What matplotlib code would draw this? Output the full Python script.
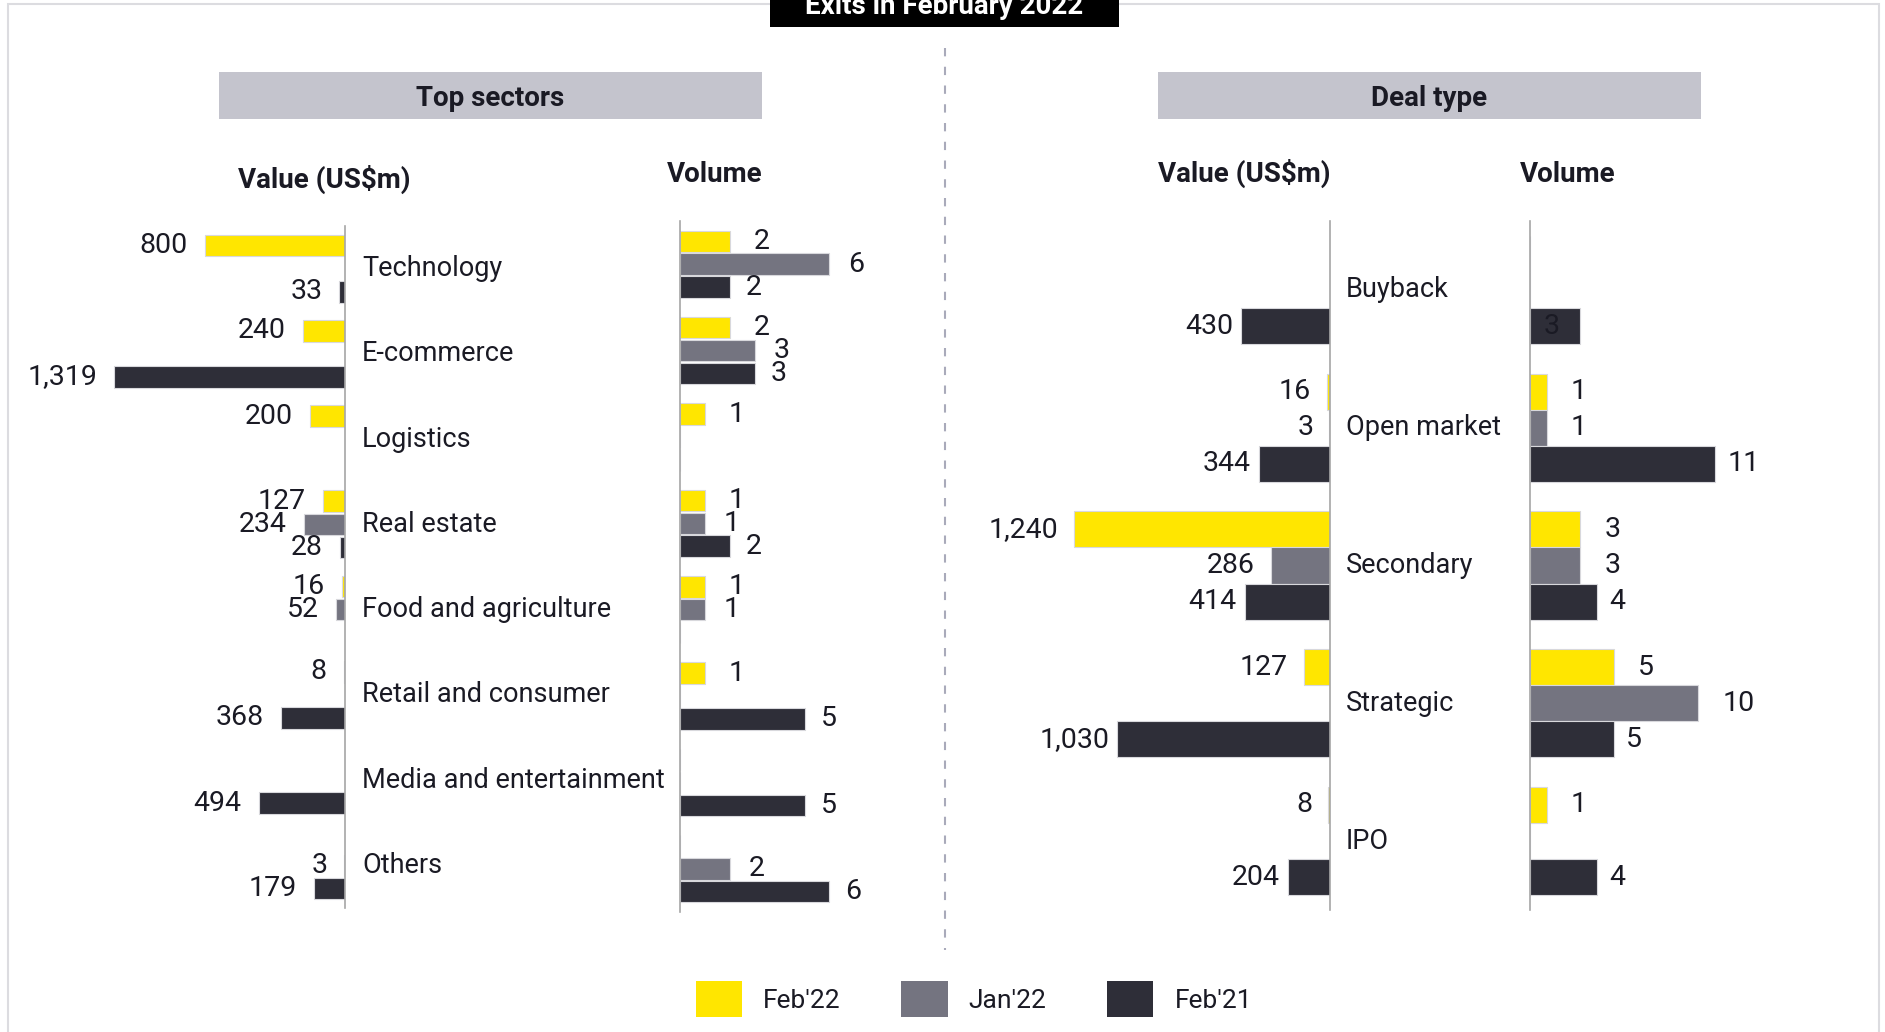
import numpy as np
import matplotlib.pyplot as plt
from matplotlib.patches import Rectangle, Patch
from matplotlib.lines import Line2D

plt.rcParams['font.family'] = ['Roboto', 'DejaVu Sans']

# ------------------------------------------------------------
# Data
# ------------------------------------------------------------
series_names = ["Feb'22", "Jan'22", "Feb'21"]
colors = ['#FFE600', '#747480', '#2E2E38']

sectors = ['Technology', 'E-commerce', 'Logistics', 'Real estate',
           'Food and agriculture', 'Retail and consumer',
           'Media and entertainment', 'Others']
nan = np.nan
sector_value_feb22 = [800, 240, 200, 127, 16, 8, nan, nan]
sector_value_jan22 = [nan, nan, nan, 234, 52, nan, nan, 3]
sector_value_feb21 = [33, 1319, nan, 28, nan, 368, 494, 179]
sector_volume_feb22 = [2, 2, 1, 1, 1, 1, nan, nan]
sector_volume_jan22 = [6, 3, nan, 1, 1, nan, nan, 2]
sector_volume_feb21 = [2, 3, nan, 2, nan, 5, 5, 6]

deal_types = ['Buyback', 'Open market', 'Secondary', 'Strategic', 'IPO']
deal_value_feb22 = [nan, 16, 1240, 127, 8]
deal_value_jan22 = [nan, 3, 286, nan, nan]
deal_value_feb21 = [430, 344, 414, 1030, 204]
deal_volume_feb22 = [nan, 1, 3, 5, 1]
deal_volume_jan22 = [nan, 1, 3, 10, nan]
deal_volume_feb21 = [3, 11, 4, 5, 4]

TXT = '#1A1A24'
FS = 19.5      # category labels
FS_NUM = 20.5  # data labels
FS_HEAD = 20

W, H = 1885, 1032
fig = plt.figure(figsize=(W / 100, H / 100), dpi=100)
PT = 0.72  # points per pixel at dpi 100


def px_axes(x0, y0, x1, y1):
    # pixel box measured from the top-left corner
    return fig.add_axes([x0 / W, 1 - y1 / H, (x1 - x0) / W, (y1 - y0) / H])


def draw(ax, data, n, offset, height, pads, value_side, inside=()):
    y = np.arange(n)
    for k, vals in enumerate(data):
        vals = np.array(vals, dtype=float)
        pos = y + (k - 1) * offset
        ax.barh(pos, np.nan_to_num(vals), height=height, color=colors[k],
                edgecolor='#D8D8DC', linewidth=0.8)
        for i, (p, v) in enumerate(zip(pos, vals)):
            if np.isnan(v):
                continue
            if value_side:
                ax.annotate(f'{v:,.0f}', (v, p), xytext=(-pads[k] * PT, 0),
                            textcoords='offset points', ha='right', va='center',
                            fontsize=FS_NUM, color=TXT)
            elif (k, i) in inside:
                # label sits inside the bar, next to the axis
                ax.annotate(f'{v:,.0f}', (0, p), xytext=(14 * PT, 0),
                            textcoords='offset points', ha='left', va='center',
                            fontsize=FS_NUM, color=TXT)
            else:
                ax.annotate(f'{v:,.0f}', (v, p), xytext=(pads[k] * PT, 0),
                            textcoords='offset points', ha='left', va='center',
                            fontsize=FS_NUM, color=TXT)
    ax.set_ylim(n - 0.5, -0.5)
    for s in ax.spines.values():
        s.set_visible(False)
    sp = ax.spines['right'] if value_side else ax.spines['left']
    sp.set_visible(True)
    sp.set_color('#A6A6A6')
    sp.set_linewidth(1.2)
    ax.set_xticks([])
    ax.set_yticks([])
    ax.patch.set_alpha(0)


# ---- Top sectors ----
ax1 = px_axes(345 - 0.175 * 1500, 226, 345, 908)
ax1.set_xlim(1500, 0)
draw(ax1, [sector_value_feb22, sector_value_jan22, sector_value_feb21],
     len(sectors), 0.27, 0.255, [17, 17, 17], True)
for i, c in enumerate(sectors):
    ax1.annotate(c, (1, i), xycoords=('axes fraction', 'data'),
                 xytext=(17 * PT, 0), textcoords='offset points',
                 ha='left', va='center', fontsize=FS, color=TXT)

ax2 = px_axes(680, 221, 680 + 24.9 * 8, 912)
ax2.set_xlim(0, 8)
draw(ax2, [sector_volume_feb22, sector_volume_jan22, sector_volume_feb21],
     len(sectors), 0.265, 0.25, [24, 19, 16], False)

# ---- Deal type ----
ax3 = px_axes(1330 - 0.2065 * 1500, 221, 1330, 910)
ax3.set_xlim(1500, 0)
draw(ax3, [deal_value_feb22, deal_value_jan22, deal_value_feb21],
     len(deal_types), 0.262, 0.262, [16, 16, 8], True)
for i, c in enumerate(deal_types):
    ax3.annotate(c, (1, i), xycoords=('axes fraction', 'data'),
                 xytext=(16 * PT, 0), textcoords='offset points',
                 ha='left', va='center', fontsize=FS, color=TXT)

ax4 = px_axes(1530, 221, 1530 + 16.83 * 13, 910)
ax4.set_xlim(0, 13)
draw(ax4, [deal_volume_feb22, deal_volume_jan22, deal_volume_feb21],
     len(deal_types), 0.262, 0.262, [24, 24, 12], False, inside=[(2, 0)])

# ---- decorations ----
fig.add_artist(Rectangle((8 / W, -0.1), (1879 - 8) / W, 1.1 - 4 / H,
                         transform=fig.transFigure, fill=False,
                         edgecolor='#DCDCE0', linewidth=1.5))
fig.add_artist(Rectangle((770 / W, 1 - 27 / H), (1119 - 770) / W, 0.1,
                         transform=fig.transFigure, facecolor='black',
                         edgecolor='none'))
fig.text(944 / W, 1 - 14 / H, 'Exits in February 2022', ha='center',
         va='baseline', color='white', fontsize=FS_HEAD, fontweight='bold')

fig.add_artist(Line2D([945 / W, 945 / W], [1 - 48 / H, 1 - 950 / H],
                      transform=fig.transFigure, color='#A9AABA', lw=1.5,
                      linestyle=(0, (4, 5))))

for x0, x1, t in [(219, 762, 'Top sectors'), (1158, 1701, 'Deal type')]:
    fig.add_artist(Rectangle((x0 / W, 1 - 119 / H), (x1 - x0) / W, 47 / H,
                             transform=fig.transFigure, facecolor='#C4C4CD',
                             edgecolor='none'))
    fig.text((x0 + x1) / 2 / W, 1 - 98 / H, t, ha='center', va='center',
             fontsize=FS_HEAD, fontweight='bold', color=TXT)

for x, y, t in [(324, 179, 'Value (US$m)'), (715, 175, 'Volume'),
                (1244, 173, 'Value (US$m)'), (1568, 174, 'Volume')]:
    fig.text(x / W, 1 - y / H, t, ha='center', va='center', fontsize=FS_HEAD,
             fontweight='bold', color=TXT)

handles = [Patch(facecolor=c, edgecolor='none') for c in colors]
fig.legend(handles, series_names, loc='center', ncol=3,
           bbox_to_anchor=(974 / W, 33 / H), frameon=False, fontsize=19,
           handlelength=1.75, handleheight=1.75, handletextpad=0.8,
           columnspacing=2.3, labelcolor=TXT)

fig.savefig('out.png', dpi=100)
